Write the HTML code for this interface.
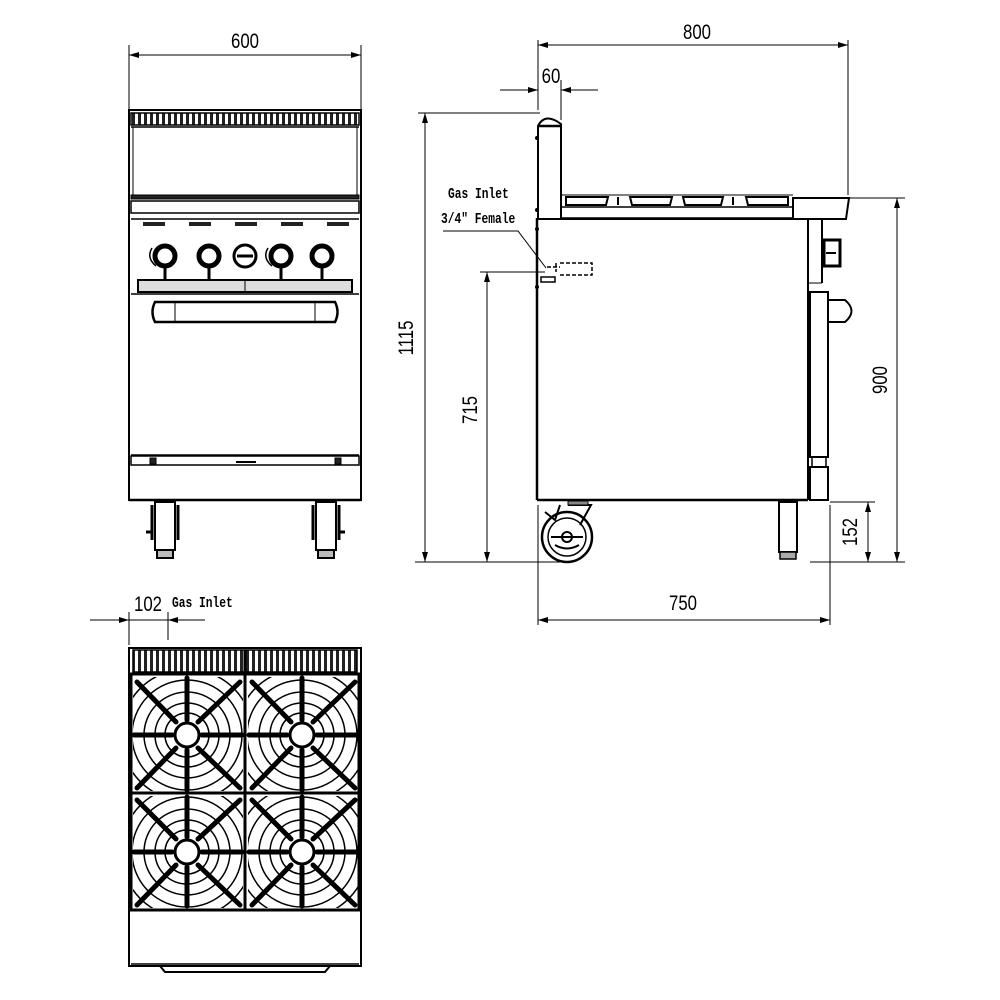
<!DOCTYPE html>
<html><head><meta charset="utf-8"><style>
html,body{margin:0;padding:0;background:#fff;}
svg{display:block;}
text{font-family:"Liberation Sans",sans-serif;fill:#000;}
</style></head><body>
<svg width="1000" height="1000" viewBox="0 0 1000 1000" xmlns="http://www.w3.org/2000/svg">
<defs>
<marker id="ar" viewBox="0 0 10 6" refX="10" refY="3" markerWidth="10" markerHeight="6" orient="auto-start-reverse" markerUnits="userSpaceOnUse"><path d="M0,0L10,3L0,6z" fill="#000"/></marker>
<clipPath id="q1"><rect x="133" y="677" width="110" height="114"/></clipPath>
<clipPath id="q2"><rect x="248" y="677" width="110" height="114"/></clipPath>
<clipPath id="q3"><rect x="133" y="796" width="110" height="112"/></clipPath>
<clipPath id="q4"><rect x="248" y="796" width="110" height="112"/></clipPath>
<pattern id="sl" x="131" y="0" width="6" height="20" patternUnits="userSpaceOnUse"><rect width="6" height="20" fill="#fff"/><rect x="1" y="0" width="3" height="20" fill="#222"/></pattern>
</defs>

<g stroke="#000" fill="none" stroke-width="1">
<!-- ===== FRONT VIEW ===== -->
<line x1="129" y1="45" x2="129" y2="110"/><line x1="361" y1="45" x2="361" y2="110"/>
<line x1="129" y1="55" x2="361" y2="55" marker-start="url(#ar)" marker-end="url(#ar)"/>
<rect x="129" y="110" width="232" height="390" stroke-width="2"/>
<rect x="131" y="113" width="228" height="12" fill="url(#sl)" stroke-width="1.5"/>
<line x1="131" y1="127" x2="359" y2="127" stroke-width="1.5"/>
<line x1="133" y1="127" x2="133" y2="195"/><line x1="357" y1="127" x2="357" y2="195"/>
<rect x="131" y="195" width="228" height="4" fill="#222"/>
<rect x="131" y="201" width="228" height="12" stroke-width="1.5"/>
<line x1="131" y1="219" x2="359" y2="219" stroke-width="1.5"/>
<g fill="#222" stroke="none">
<rect x="143" y="222" width="22" height="4"/><rect x="189" y="222" width="22" height="4"/><rect x="235" y="222" width="22" height="4"/><rect x="281" y="222" width="22" height="4"/><rect x="327" y="222" width="22" height="4"/>
</g>
<g stroke-width="5">
<circle cx="165" cy="256" r="10"/><circle cx="209" cy="256" r="10"/><circle cx="281" cy="256" r="10"/><circle cx="322" cy="256" r="10"/>
</g>
<circle cx="245" cy="256" r="11" stroke-width="3"/><line x1="237" y1="256" x2="253" y2="256" stroke-width="3"/>
<g stroke-width="3"><line x1="165" y1="266" x2="165" y2="281"/><line x1="209" y1="266" x2="209" y2="281"/><line x1="281" y1="266" x2="281" y2="281"/><line x1="322" y1="266" x2="322" y2="281"/></g>
<path d="M152,248 Q146,258 156,266" stroke-width="1.5"/><path d="M268,248 Q262,258 272,266" stroke-width="1.5"/>
<rect x="138" y="280" width="214" height="12" fill="#ddd" stroke-width="2"/>
<line x1="245" y1="280" x2="245" y2="292"/>
<line x1="131" y1="294" x2="359" y2="294" stroke-width="1.5"/>
<path d="M155,302 L335,302 Q340,312 335,322 L155,322 Q150,312 155,302z" stroke-width="2.5"/>
<line x1="175" y1="302" x2="175" y2="322"/><line x1="315" y1="302" x2="315" y2="322"/>
<line x1="131" y1="455" x2="359" y2="455" stroke-width="1.5"/>
<rect x="131" y="456" width="228" height="9" stroke-width="1.5"/>
<rect x="150" y="458" width="6" height="6" fill="#222"/><rect x="335" y="458" width="6" height="6" fill="#222"/>
<line x1="236" y1="462" x2="256" y2="462" stroke-width="2"/>
<line x1="129" y1="500" x2="361" y2="500" stroke-width="2.5"/>
<g stroke-width="2">
<rect x="155" y="502" width="20" height="48"/><rect x="157" y="550" width="16" height="8" fill="#bbb"/>
<rect x="316" y="502" width="20" height="48"/><rect x="318" y="550" width="16" height="8" fill="#bbb"/>
</g>
<path d="M152,505 L152,540 M146,532 L152,532 M178,505 L178,540" stroke-width="3"/>
<path d="M313,505 L313,540 M339,505 L339,540 M339,532 L345,532" stroke-width="3"/>

<!-- ===== SIDE VIEW ===== -->
<line x1="538" y1="110" x2="538" y2="40"/><line x1="848" y1="195" x2="848" y2="40"/>
<line x1="538" y1="45" x2="848" y2="45" marker-start="url(#ar)" marker-end="url(#ar)"/>
<line x1="561" y1="120" x2="561" y2="80"/>
<line x1="500" y1="90" x2="538" y2="90" marker-end="url(#ar)"/>
<line x1="598" y1="90" x2="561" y2="90" marker-end="url(#ar)"/>
<line x1="418" y1="113" x2="540" y2="113"/>
<line x1="425" y1="113" x2="425" y2="562" marker-start="url(#ar)" marker-end="url(#ar)"/>
<line x1="415" y1="562" x2="560" y2="562"/>
<line x1="480" y1="272" x2="545" y2="272"/>
<line x1="487" y1="272" x2="487" y2="562" marker-start="url(#ar)" marker-end="url(#ar)"/>
<line x1="848" y1="198" x2="905" y2="198"/>
<line x1="897" y1="198" x2="897" y2="562" marker-start="url(#ar)" marker-end="url(#ar)"/>
<line x1="810" y1="562" x2="905" y2="562"/>
<line x1="830" y1="502" x2="875" y2="502"/>
<line x1="868" y1="502" x2="868" y2="562" marker-start="url(#ar)" marker-end="url(#ar)"/>
<line x1="538" y1="505" x2="538" y2="625"/><line x1="830" y1="505" x2="830" y2="625"/>
<line x1="538" y1="620" x2="830" y2="620" marker-start="url(#ar)" marker-end="url(#ar)"/>
<path d="M538,218 L538,126 Q545,112 561,124 L561,218" stroke-width="2"/>
<line x1="538" y1="126" x2="561" y2="126" stroke-width="2.5"/>
<line x1="537" y1="218" x2="537" y2="500" stroke-width="2.5"/>
<line x1="561" y1="195" x2="793" y2="195"/>
<rect x="561" y="207" width="232" height="11" stroke-width="1.5"/>
<g stroke-width="2">
<path d="M566,197 L608,197 L606,205 L566,205z"/><path d="M630,197 L672,197 L670,205 L632,205z"/>
<path d="M683,197 L723,197 L721,205 L685,205z"/><path d="M746,197 L788,197 L788,205 L748,205z"/>
<line x1="618" y1="197" x2="618" y2="205"/><line x1="733" y1="197" x2="733" y2="205"/>
</g>
<path d="M793,198 L849,198 L846,219 L793,219z" stroke-width="2"/>
<line x1="538" y1="219" x2="808" y2="219" stroke-width="2"/>
<line x1="808" y1="219" x2="808" y2="500" stroke-width="2"/>
<line x1="822" y1="219" x2="822" y2="283" stroke-width="2"/>
<line x1="808" y1="283" x2="822" y2="283"/>
<rect x="824" y="240" width="16" height="26" stroke-width="3"/>
<line x1="826" y1="253" x2="836" y2="253" stroke-width="2"/>
<rect x="810" y="292" width="18" height="165" stroke-width="2"/>
<path d="M828,300 L845,300 Q858,311 845,322 L828,322" stroke-width="2"/>
<rect x="812" y="457" width="14" height="10" stroke-width="1.5"/>
<rect x="810" y="467" width="18" height="33" stroke-width="2"/>
<line x1="537" y1="500" x2="808" y2="500" stroke-width="2.5"/>
<path d="M547,267 L560,267 M556,263 L556,272 M560,263 L592,263 L592,275 L560,275" stroke-dasharray="4,2" stroke-width="1.5"/>
<rect x="541" y="277" width="14" height="5" stroke-width="1.5"/>
<polyline points="443,231 518,231 546,268"/>
<g fill="#000" stroke="none"><circle cx="537" cy="138" r="2"/><circle cx="537" cy="210" r="2"/><circle cx="537" cy="229" r="2"/><circle cx="537" cy="287" r="2"/></g>
<circle cx="567" cy="537" r="25" stroke-width="2.5"/>
<circle cx="567" cy="537" r="19" stroke-width="1.5"/>
<circle cx="567" cy="537" r="5" stroke-width="2"/>
<path d="M551,537 L583,537 M555,545 Q567,552 579,545" stroke-width="2"/>
<path d="M568,505 L591,505 L580,525 M560,505 L555,520 L545,512" stroke-width="2"/>
<rect x="568" y="501" width="20" height="4" fill="#888"/>
<rect x="779" y="502" width="18" height="50" stroke-width="2"/>
<rect x="780" y="552" width="16" height="7" fill="#aaa" stroke-width="1.5"/>

<!-- ===== TOP VIEW ===== -->
<line x1="129" y1="612" x2="129" y2="645"/><line x1="168" y1="612" x2="168" y2="640"/>
<line x1="90" y1="620" x2="129" y2="620" marker-end="url(#ar)"/>
<line x1="205" y1="620" x2="168" y2="620" marker-end="url(#ar)"/>
<line x1="129" y1="620" x2="168" y2="620"/>
<rect x="129" y="648" width="232" height="318" stroke-width="2"/>
<rect x="133" y="650" width="224" height="22" fill="url(#sl)" stroke-width="1.5"/>
<line x1="245" y1="650" x2="245" y2="672" stroke-width="3"/>
<rect x="131" y="674" width="228" height="236" stroke-width="3"/>
<line x1="245" y1="674" x2="245" y2="910" stroke-width="3"/>
<line x1="131" y1="793" x2="359" y2="793" stroke-width="3"/>
<g clip-path="url(#q1)" stroke-width="1.5"><circle cx="187" cy="735" r="22"/><circle cx="187" cy="735" r="32"/><circle cx="187" cy="735" r="43"/><circle cx="187" cy="735" r="55"/><circle cx="187" cy="735" r="66"/></g>
<g clip-path="url(#q2)" stroke-width="1.5"><circle cx="302" cy="735" r="22"/><circle cx="302" cy="735" r="32"/><circle cx="302" cy="735" r="43"/><circle cx="302" cy="735" r="55"/><circle cx="302" cy="735" r="66"/></g>
<g clip-path="url(#q3)" stroke-width="1.5"><circle cx="187" cy="852" r="22"/><circle cx="187" cy="852" r="32"/><circle cx="187" cy="852" r="43"/><circle cx="187" cy="852" r="55"/><circle cx="187" cy="852" r="66"/></g>
<g clip-path="url(#q4)" stroke-width="1.5"><circle cx="302" cy="852" r="22"/><circle cx="302" cy="852" r="32"/><circle cx="302" cy="852" r="43"/><circle cx="302" cy="852" r="55"/><circle cx="302" cy="852" r="66"/></g>
<g stroke-width="5" stroke-linecap="round">
<path d="M187,678 V720 M187,750 V790 M134,735 H172 M202,735 H242 M137,682 L176,722 M198,748 L240,788 M240,682 L198,722 M176,748 L137,788"/>
<path d="M302,678 V720 M302,750 V790 M249,735 H287 M317,735 H356 M252,682 L291,722 M313,748 L355,788 M355,682 L313,722 M291,748 L252,788"/>
<path d="M187,797 V837 M187,867 V906 M134,852 H172 M202,852 H242 M137,800 L176,839 M198,865 L240,905 M240,800 L198,839 M176,865 L137,905"/>
<path d="M302,797 V837 M302,867 V906 M249,852 H287 M317,852 H356 M252,800 L291,839 M313,865 L355,905 M355,800 L313,839 M291,865 L252,905"/>
</g>
<g stroke-width="3" fill="#fff">
<circle cx="187" cy="735" r="12"/><circle cx="302" cy="735" r="12"/><circle cx="187" cy="852" r="12"/><circle cx="302" cy="852" r="12"/>
</g>
<line x1="131" y1="964" x2="359" y2="964" stroke-width="1.5"/>
<path d="M160,966 L165,972 L325,972 L330,966" stroke-width="2"/>
</g>

<g font-size="21">
<text transform="translate(245,48) scale(0.8,1)" text-anchor="middle">600</text>
<text transform="translate(697,39) scale(0.8,1)" text-anchor="middle">800</text>
<text transform="translate(551,83) scale(0.8,1)" text-anchor="middle">60</text>
<text transform="translate(683,610) scale(0.8,1)" text-anchor="middle">750</text>
<text transform="translate(148,611) scale(0.8,1)" text-anchor="middle">102</text>
<text transform="translate(413,338) rotate(-90) scale(0.8,1)" text-anchor="middle">1115</text>
<text transform="translate(477,410) rotate(-90) scale(0.8,1)" text-anchor="middle">715</text>
<text transform="translate(887,380) rotate(-90) scale(0.8,1)" text-anchor="middle">900</text>
<text transform="translate(857,532) rotate(-90) scale(0.8,1)" text-anchor="middle">152</text>
</g>
<g font-weight="bold" font-size="15">
<text transform="translate(172,607) scale(0.75,1)" style="font-family:'Liberation Mono',monospace">Gas Inlet</text>
<text transform="translate(448,198) scale(0.75,1)" style="font-family:'Liberation Mono',monospace">Gas Inlet</text>
<text transform="translate(441,223) scale(0.75,1)" style="font-family:'Liberation Mono',monospace">3/4" Female</text>
</g>
</svg>
</body></html>
